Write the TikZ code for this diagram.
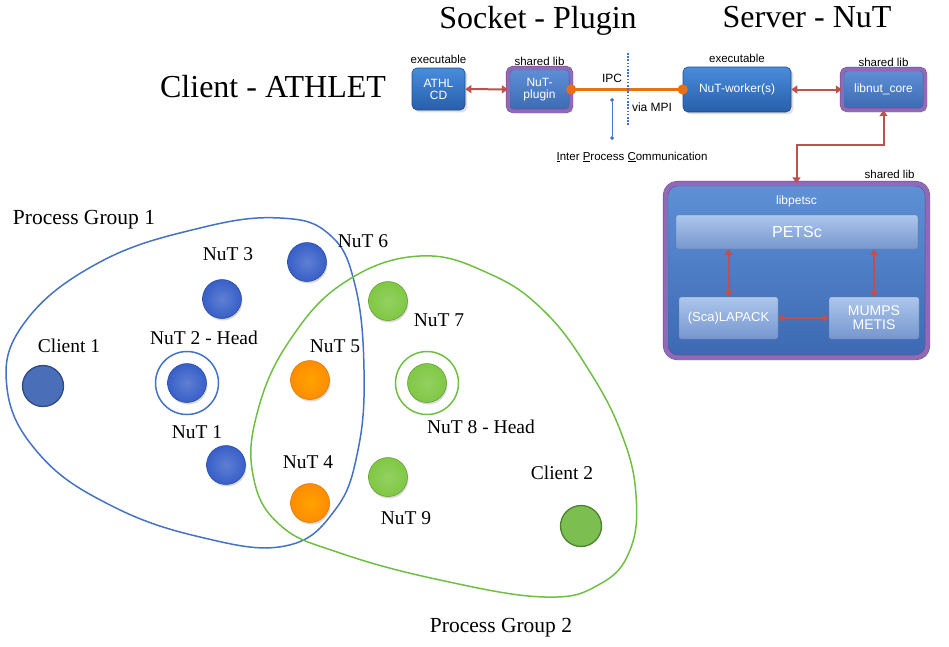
\documentclass[tikz,border=0pt]{standalone}
\usepackage{fontspec}
\setmainfont{Liberation Serif}
\setsansfont{Liberation Sans}
\usetikzlibrary{positioning, arrows.meta, shadows}

\definecolor{exetop}{RGB}{72,140,220}
\definecolor{exebot}{RGB}{40,95,170}
\definecolor{libtop}{RGB}{95,145,215}
\definecolor{libbot}{RGB}{60,105,178}
\definecolor{libpurple}{RGB}{145,105,185}
\definecolor{bartop}{RGB}{172,198,236}
\definecolor{barbot}{RGB}{118,150,206}
\definecolor{linkred}{RGB}{192,80,77}
\definecolor{ipcorange}{RGB}{232,112,18}
\definecolor{grpblue}{RGB}{68,114,196}
\definecolor{grpgreen}{RGB}{112,190,70}
\definecolor{nutblue}{RGB}{55,95,200}
\definecolor{nutorange}{RGB}{255,140,0}
\definecolor{nutgreen}{RGB}{128,200,68}

\newcommand{\sz}[1]{\fontsize{#1}{#1}\selectfont}

\tikzset{
  exebox/.style={rounded corners=5pt, top color=exetop, bottom color=exebot,
    draw=exebot!80!black, line width=.6pt, text=white, align=center,
    font=\sffamily\sz{12}, drop shadow={opacity=.25}},
  libbox/.style={rounded corners=5pt, top color=libtop, bottom color=libbot,
    draw=libpurple!70!black, double=libpurple, double distance=3.5pt,
    text=white, align=center, font=\sffamily\sz{12}, drop shadow={opacity=.25}},
  barbox/.style={rounded corners=2pt, top color=bartop, bottom color=barbot,
    draw=barbot!80!black, line width=.4pt, text=white, align=center},
  lbl/.style={font=\sffamily\sz{11.5}, inner sep=1pt},
  link/.style={linkred, line width=2pt, {Triangle[length=6pt,width=8pt]}-{Triangle[length=6pt,width=8pt]}},
  title/.style={font=\sz{32}, anchor=base, inner sep=0pt},
  nutlbl/.style={font=\sz{19.5}, inner sep=0pt},
  bubble/.style={circle, minimum size=39pt, inner sep=0pt, line width=.5pt,
    drop shadow={shadow xshift=1pt, shadow yshift=-2pt, opacity=.3}},
  ring/.style={circle, minimum size=63pt, line width=1.5pt, inner sep=0pt},
  client/.style={circle, minimum size=41pt, inner sep=0pt, line width=1.3pt}
}

\begin{document}
\begin{tikzpicture}[x=1pt,y=-1pt]
\useasboundingbox (0,0) rectangle (949,646);

% titles
\node[title] (ttlclient) at (273,97) {Client - ATHLET};
\node[title] (ttlsocket) at (538,28) {Socket - Plugin};
\node[title] (ttlserver) at (807,27) {Server - NuT};

% software stack
\node[exebox, minimum width=53pt, minimum height=42pt] (athl) at (438.5,89) {ATHL\\CD};
\node[libbox, minimum width=63pt, minimum height=43pt] (plugin) at (539.5,89.5) {NuT-\\plugin};
\node[exebox, minimum width=108pt, minimum height=45pt] (worker) at (737,89.5) {NuT-worker(s)};
\node[libbox, minimum width=83pt, minimum height=41pt] (libnut) at (883.5,89.5) {libnut\_core};
\node[libbox, minimum width=262pt, minimum height=174pt, rounded corners=12pt,
  double distance=4.5pt] (libpetsc) at (796.5,270.5) {};
\node[barbox, minimum width=242pt, minimum height=34pt, font=\sffamily\sz{16}] (petsc) at (797,232) {PETSc};
\node[barbox, minimum width=99pt, minimum height=42pt, font=\sffamily\sz{13}] (lapack) at (728.5,318) {(Sca)LAPACK};
\node[barbox, minimum width=90pt, minimum height=42pt, font=\sffamily\sz{14}] (mumps) at (874,318) {MUMPS\\METIS};

\node[lbl, above=3pt of athl] (athlexe) {executable};
\node[lbl, above=1pt of plugin] (pluginlib) {shared lib};
\node[lbl, above=3pt of worker] (workerexe) {executable};
\node[lbl, above=1pt of libnut] (libnutlib) {shared lib};
\node[lbl, above left=3pt and 12pt of libpetsc.north east] (petsclib) {shared lib};
\node[lbl, font=\sffamily\sz{12}, text=white, below=11pt of libpetsc.north] (petscname) {libpetsc};

\draw[link] (athl) -- (plugin);
\draw[link] (worker) -- (libnut);
\draw[link] (libnut.south) -- ++(0,35) -| (libpetsc.north);
\draw[link] (petsc.south -| lapack) -- (lapack.north);
\draw[link] (petsc.south -| mumps) -- (mumps.north);
\draw[link] (lapack) -- (mumps);

% inter process communication
\draw[ipcorange, line width=3pt, shorten <=-5pt, shorten >=-5pt,
  {Circle[length=10pt]}-{Circle[length=10pt]}] (plugin.east) -- (worker.west);
\coordinate (septop) at (628,53);
\coordinate (sepbot) at (628,125);
\draw[grpblue, line width=1.6pt, dash pattern=on 1.6pt off 1.6pt] (septop) -- (sepbot);
\node[lbl, font=\sffamily\sz{12}] (ipc) at (612,78) {IPC};
\node[lbl, font=\sffamily\sz{12}] (viampi) at (652,107) {via MPI};
\coordinate (noteup) at (612,98);
\coordinate (notedown) at (612,140);
\draw[grpblue, line width=.6pt, {Diamond[length=4pt,width=4pt]}-{Diamond[length=4pt,width=4pt]}] (noteup) -- (notedown);
\node[lbl, font=\sffamily\sz{11.5}, anchor=base] (ipcnote) at (632,160)
  {\underline{I}nter \underline{P}rocess \underline{C}ommunication};

% process groups
\draw[grpblue, line width=1.5pt] plot[smooth cycle, tension=.7] coordinates {
  (7,388) (25,322) (100,262) (200,228) (280,218) (330,235) (355,285) (364,370)
  (358,450) (335,510) (285,546) (200,537) (110,505) (40,455)};
\draw[grpgreen, line width=1.5pt] plot[smooth cycle, tension=.7] coordinates {
  (420,256) (490,274) (545,312) (590,372) (622,435) (636,495) (630,550)
  (600,584) (545,597) (440,580) (340,553) (280,525) (253,475) (258,410) (290,340) (345,282)};

\foreach \n/\x/\y in {nut1/226/465, nut2/187/383, nut3/222/299, nut6/307/262}
  \node[bubble, draw=nutblue!75!black, inner color=nutblue!80!white, outer color=nutblue] (\n) at (\x,\y) {};
\foreach \n/\x/\y in {nut4/310/503, nut5/310/380}
  \node[bubble, draw=nutorange!85!black, inner color=nutorange!80!yellow, outer color=nutorange] (\n) at (\x,\y) {};
\foreach \n/\x/\y in {nut7/388/301, nut8/427/383, nut9/388/477}
  \node[bubble, draw=nutgreen!75!black, inner color=nutgreen!85!white, outer color=nutgreen] (\n) at (\x,\y) {};
\node[client, fill={rgb,255:red,75;green,110;blue,185}, draw={rgb,255:red,45;green,75;blue,135}] (client1) at (43,386) {};
\node[client, fill={rgb,255:red,125;green,190;blue,80}, draw={rgb,255:red,75;green,130;blue,45}] (client2) at (581,526) {};
\node[ring, draw=grpblue] (head1) at (nut2) {};
\node[ring, draw=grpgreen] (head2) at (nut8) {};

\foreach \n/\x/\y/\t in {lnut1/197/432/NuT 1, lnut2/204/338/NuT 2 - Head, lnut3/228/254/NuT 3,
    lnut4/308/462/NuT 4, lnut5/335/346/NuT 5, lnut6/363/241/NuT 6, lnut7/439/320/NuT 7,
    lnut8/481/427/NuT 8 - Head, lnut9/406/518/NuT 9, lclient1/69/346/Client 1, lclient2/562/473/Client 2}
  \node[nutlbl] (\n) at (\x,\y) {\t};

\node[nutlbl, font=\sz{21.5}, anchor=base] (grp1) at (84,224) {Process Group 1};
\node[nutlbl, font=\sz{21.5}, anchor=base] (grp2) at (501,632) {Process Group 2};
\end{tikzpicture}
\end{document}
